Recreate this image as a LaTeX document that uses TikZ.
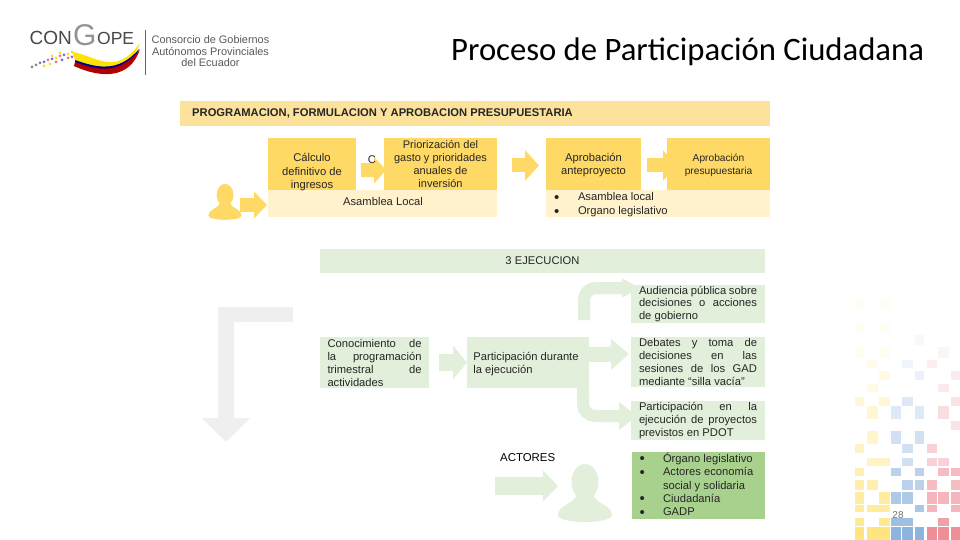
\documentclass[tikz,border=0pt]{standalone}
\usepackage{fontspec}
\setmainfont{Liberation Sans}
\newfontfamily\titlefont{Carlito}
\usetikzlibrary{arrows.meta,backgrounds}
\definecolor{ybar}{HTML}{FCE29B}
\definecolor{ybox}{HTML}{FFD966}
\definecolor{ylight}{HTML}{FFF2CC}
\definecolor{yarrow}{HTML}{FFD966}
\definecolor{gband}{HTML}{E2EFDA}
\definecolor{gdark}{HTML}{A9D18E}
\definecolor{gharrow}{HTML}{EFEFEF}
\definecolor{txt}{HTML}{262626}
\definecolor{myel}{HTML}{FFE57F}
\definecolor{mblu}{HTML}{8DB4DC}
\definecolor{mred}{HTML}{EE8F98}
\tikzset{
  blockbox/.style={rectangle,anchor=north west,inner sep=0pt,outer sep=0pt,text=txt,font=\fontsize{11.2}{13}\selectfont,align=center},
  labeltext/.style={inner sep=0pt,outer sep=0pt,text=txt,font=\fontsize{11.2}{13.2}\selectfont,align=left},
  yarrowline/.style={draw=yarrow,line width=14pt,-{Triangle[length=14pt,width=30pt]}},
  garrowline/.style={draw=gband,line width=14pt,-{Triangle[length=17pt,width=30pt]}},
}
\newcommand{\just}[2]{\makebox[#1pt][s]{#2}}
\newcommand{\bul}[1]{\makebox[#1pt][l]{\hspace{1.5pt}\fontsize{15}{10}\selectfont\raisebox{-1.4pt}{•}}}
\newcommand{\persona}[4]{% x, y (head centre), scale, colour
  \fill[#4] (#1,#2) ellipse ({13.5*#3} and {18*#3});
  \fill[#4] ({#1-8*#3},{#2+12*#3}) .. controls ({#1-9*#3},{#2+21*#3}) and ({#1-27*#3},{#2+23*#3}) .. ({#1-27*#3},{#2+33*#3})
     .. controls ({#1-27*#3},{#2+38*#3}) and ({#1-12*#3},{#2+40*#3}) .. ({#1},{#2+40*#3})
     .. controls ({#1+12*#3},{#2+40*#3}) and ({#1+27*#3},{#2+38*#3}) .. ({#1+27*#3},{#2+33*#3})
     .. controls ({#1+27*#3},{#2+23*#3}) and ({#1+9*#3},{#2+21*#3}) .. ({#1+8*#3},{#2+12*#3}) -- cycle;
}
\begin{document}
\begin{tikzpicture}[x=1pt,y=-1pt]
\useasboundingbox (0,0) rectangle (960,540);
\begin{scope}[on background layer]
\fill[white] (0,0) rectangle (960,540);
% mosaic
\foreach \xa/\xb/\ya/\yb/\col/\op in {
 855/864/298/310/myel/8, 879/890/298/310/myel/8,
 855/864/323/332/myel/10, 879/890/323/332/myel/10,
 915/924/335/345/mblu/8,
 855/864/347/358/myel/12, 879/890/347/358/myel/12, 938/949/347/358/mred/10,
 867/878/360/368/myel/15, 902/913/360/368/mblu/15, 927/937/360/368/mred/15,
 879/890/371/380/myel/20, 915/924/371/380/mblu/18, 951/960/371/380/mred/18,
 867/878/384/392/myel/20, 938/949/384/392/mred/20,
 855/864/397/406/myel/30, 879/890/397/406/myel/30, 902/913/397/406/mblu/30, 951/960/397/406/mred/25,
 867/878/406/419/myel/35, 891/901/406/419/mblu/30, 915/924/406/419/mblu/30, 938/949/406/419/mred/30,
 951/960/421/430/mred/25,
 867/878/431/444/myel/40, 891/901/431/444/mblu/40, 915/924/431/444/mblu/40,
 855/864/444/453/myel/45, 902/913/444/453/mblu/40, 927/937/444/453/mred/40,
 867/890/458/466/myel/45, 902/913/458/466/mblu/40, 927/937/458/466/mred/40, 938/949/458/466/mred/40,
 855/864/468/476/myel/60, 891/901/468/476/mblu/60, 915/924/468/476/mblu/60, 938/949/468/476/mred/60, 951/960/468/476/mred/60,
 855/864/480/490/myel/65, 867/878/480/490/myel/65, 902/913/480/490/mblu/60, 915/924/480/490/mblu/60, 927/937/480/490/mred/60, 951/960/480/490/mred/60,
 855/864/492/504/myel/75, 879/890/492/504/myel/75, 891/901/492/504/mblu/70, 902/913/492/504/mblu/70, 927/937/492/504/mred/65, 938/949/492/504/mred/65, 951/960/492/504/mred/65,
 855/864/505/512/myel/75, 867/890/505/512/myel/75, 915/924/505/512/mblu/75, 927/937/505/512/mred/65, 951/960/505/512/mred/65,
 855/864/518/526/myel/85, 879/890/518/526/myel/85, 891/913/518/526/mblu/85, 938/949/518/526/mred/85,
 855/864/527/540/myel/100, 867/890/527/540/myel/100, 891/901/527/540/mblu/100, 902/913/527/540/mblu/100, 915/924/527/540/mblu/100, 927/937/527/540/mred/100, 938/949/527/540/mred/100, 951/960/527/540/mred/100}
 {\fill[\col!\op!white] (\xa,\ya) rectangle (\xb,\yb);}
\end{scope}

% logo
\node[anchor=west,inner sep=0pt,text=black!72,font=\fontsize{19}{15}\selectfont] (logoa) at (29.5,38) {CON};
\node[anchor=west,inner sep=0pt,text=black!42,font=\fontsize{30}{29}\selectfont] (logob) at (73,35) {G};
\node[anchor=west,inner sep=0pt,text=black!72,font=\fontsize{17.5}{15}\selectfont] (logoc) at (97,38) {OPE};
\fill[yellow!85!orange] (72,52) .. controls (95,55) and (115,78) .. (140,43) .. controls (132,68) and (105,72) .. (76,62) -- cycle;
\fill[blue!55!black] (75,60) .. controls (95,67) and (118,74) .. (139,49) .. controls (130,72) and (105,74) .. (75,63) -- cycle;
\fill[red!70!black] (75,62) .. controls (95,70) and (120,76) .. (140,49) .. controls (130,80) and (100,78) .. (74,66) -- cycle;
\foreach \px/\py/\pc in {32/67/gray,36/65/gray,40/63/gray,44/62/blue!60,48/60/red!60,52/59/blue!60,56/58/yellow!80!orange,60/56/red!60,64/55/blue!60,68/54/yellow!80!orange,72/52/yellow!80!orange,44/66/yellow!80!orange,50/64/yellow!80!orange,56/62/red!60,62/60/blue!60,68/58/red!60,72/57/blue!60,60/53/yellow!80!orange,52/56/yellow!80!orange}
 {\fill[\pc] (\px,\py) circle (1.5);}
\fill[black!60] (144.5,30) rectangle (145.8,75);
\node[inner sep=0pt,text=black!65,align=center,font=\fontsize{10.9}{11.6}\selectfont] (logot) at (210.5,51.5) {Consorcio de Gobiernos\\Autónomos Provinciales\\del Ecuador};

% title
\node[anchor=west,inner sep=0pt,font=\titlefont\fontsize{32.7}{33}\selectfont] (titulo) at (451,51.5) {Proceso de Participación Ciudadana};

% top block
\node[blockbox,fill=ybar,minimum width=590pt,minimum height=25pt] (hprog) at (180,101) {};
\node[anchor=west,inner sep=0pt,text=txt,font=\fontsize{11.2}{12}\selectfont\bfseries] (hprogt) at (192,113.5) {PROGRAMACION, FORMULACION Y APROBACION PRESUPUESTARIA};
\node[blockbox,fill=ylight,minimum width=229pt,minimum height=27pt] (asam) at (268,190) {};
\node[labeltext] (asamt) at (383,201.5) {Asamblea Local};
\node[blockbox,fill=ylight,minimum width=224pt,minimum height=27pt] (band2) at (546,190) {};
\node[blockbox,fill=ybox,minimum width=88pt,minimum height=52pt] (calc) at (268,138) {\rule{0pt}{24pt}Cálculo\\definitivo de\\ingresos};
\node[blockbox,fill=ybox,minimum width=113pt,minimum height=52pt,font=\fontsize{11}{12.8}\selectfont] (prio) at (384,138) {Priorización del\\gasto y prioridades\\anuales de\\inversión};
\node[blockbox,fill=ybox,minimum width=95pt,minimum height=52pt] (apro) at (546,138) {\rule{0pt}{11pt}Aprobación\\anteproyecto};
\node[blockbox,fill=ybox,minimum width=103pt,minimum height=52pt,font=\fontsize{10.2}{13}\selectfont] (apre) at (667,138) {\rule{0pt}{11pt}Aprobación\\presupuestaria};
\node[labeltext] (cc) at (372,160) {C};
\node[labeltext,anchor=north west,font=\fontsize{11.2}{14}\selectfont] (lista1) at (552.5,192.5) {\bul{25.5}Asamblea local\\\bul{25.5}Organo legislativo};

% persona + arrows top
\persona{225}{195}{0.62}{ybox}
\begin{scope}[on background layer]
\draw[yarrowline,line width=14pt,-{Triangle[length=13pt,width=26pt]}] (240,205) -- ([xshift=-1pt,yshift=-1.5pt]asam.west);
\draw[yarrowline,line width=14pt,-{Triangle[length=12pt,width=26pt]}] ([xshift=5pt,yshift=-6pt]calc.east) -- ([xshift=2pt,yshift=-6pt]prio.west);
\draw[yarrowline] ([xshift=15pt,yshift=-1.5pt]prio.east) -- ([xshift=-7pt,yshift=-1.5pt]apro.west);
\draw[yarrowline] ([xshift=6pt,yshift=-1.5pt]apro.east) -- ([xshift=10pt,yshift=-1.5pt]apre.west);
\end{scope}

% grey arrow
\coordinate (ga) at (293,314.5);
\coordinate (gb) at (226,314.5);
\coordinate (gc) at (226,442);
\draw[gharrow,line width=15.5pt,-{Triangle[length=24pt,width=47pt]}] (ga) -- (gb) -- (gc);

% execution block
\node[blockbox,fill=gband,minimum width=445pt,minimum height=24pt] (heje) at (320,249) {3 EJECUCION};
\node[blockbox,fill=gband,minimum width=109pt,minimum height=51pt,align=left] (cono) at (320,337) {\just{94}{Conocimiento de}\\\just{94}{la programación}\\\just{94}{trimestral de}\\actividades};
\node[blockbox,fill=gband,minimum width=122pt,minimum height=51pt,align=left] (part) at (467,337) {\rule{0pt}{11pt}Participación durante\hspace*{4pt}\\la ejecución};
\node[blockbox,fill=gband,minimum width=134pt,minimum height=38pt,font=\fontsize{11.2}{12.8}\selectfont,align=left] (aud) at (631,285) {\just{118}{Audiencia pública sobre}\\\just{118}{decisiones o acciones}\\de gobierno};
\node[blockbox,fill=gband,minimum width=134pt,minimum height=50pt,align=left] (deb) at (631,337) {\just{118}{Debates y toma de}\\\just{118}{decisiones en las}\\\just{118}{sesiones de los GAD}\\mediante “silla vacía”};
\node[blockbox,fill=gband,minimum width=134pt,minimum height=39pt,font=\fontsize{11.2}{12.8}\selectfont,align=left] (pej) at (631,401) {\just{118}{Participación en la}\\\just{118}{ejecución de proyectos}\\previstos en PDOT};
\begin{scope}[on background layer]
\draw[garrowline,line width=17pt,-{Triangle[length=14pt,width=33pt]}] ([xshift=10pt,yshift=0pt]cono.east) -- (part.west);
\draw[garrowline,line width=15pt,-{Triangle[length=18pt,width=30pt]}] ([xshift=-2pt,yshift=8pt]part.east) -- ([xshift=-2pt,yshift=8pt]deb.west);
\draw[garrowline,line width=12pt,rounded corners=12pt,-{Triangle[length=18pt,width=18pt]}] (584,320) -- (584,288) -- ([xshift=9pt,yshift=16pt]aud.west);
\draw[garrowline,line width=12pt,rounded corners=12pt,-{Triangle[length=18pt,width=27pt]}] ([xshift=-6pt,yshift=2pt]part.south east) -- (583,416) -- ([xshift=6pt,yshift=4.5pt]pej.west);
\end{scope}

% actores
\node[anchor=west,inner sep=0pt,text=black,font=\fontsize{11.4}{12}\selectfont] (actt) at (500,457.5) {ACTORES};
\persona{585}{482}{1}{gband}
\coordinate (actfrom) at (495,486);
\coordinate (actto) at (558,486);
\draw[gband,line width=18pt,-{Triangle[length=15pt,width=30pt]}] (actfrom) -- (actto);
\node[blockbox,fill=gdark,minimum width=133pt,minimum height=67pt] (acto) at (632,452) {};
\node[labeltext,anchor=north west,font=\fontsize{11.2}{13.4}\selectfont] (actl) at (638,452.5) {\bul{25}Órgano legislativo\\\bul{25}Actores economía\\\makebox[25pt][l]{}social y solidaria\\\bul{25}Ciudadanía\\\bul{25}GADP};

\node[inner sep=0pt,text=black!55,font=\fontsize{10}{12}\selectfont] (num) at (898,515) {28};
\end{tikzpicture}
\end{document}
